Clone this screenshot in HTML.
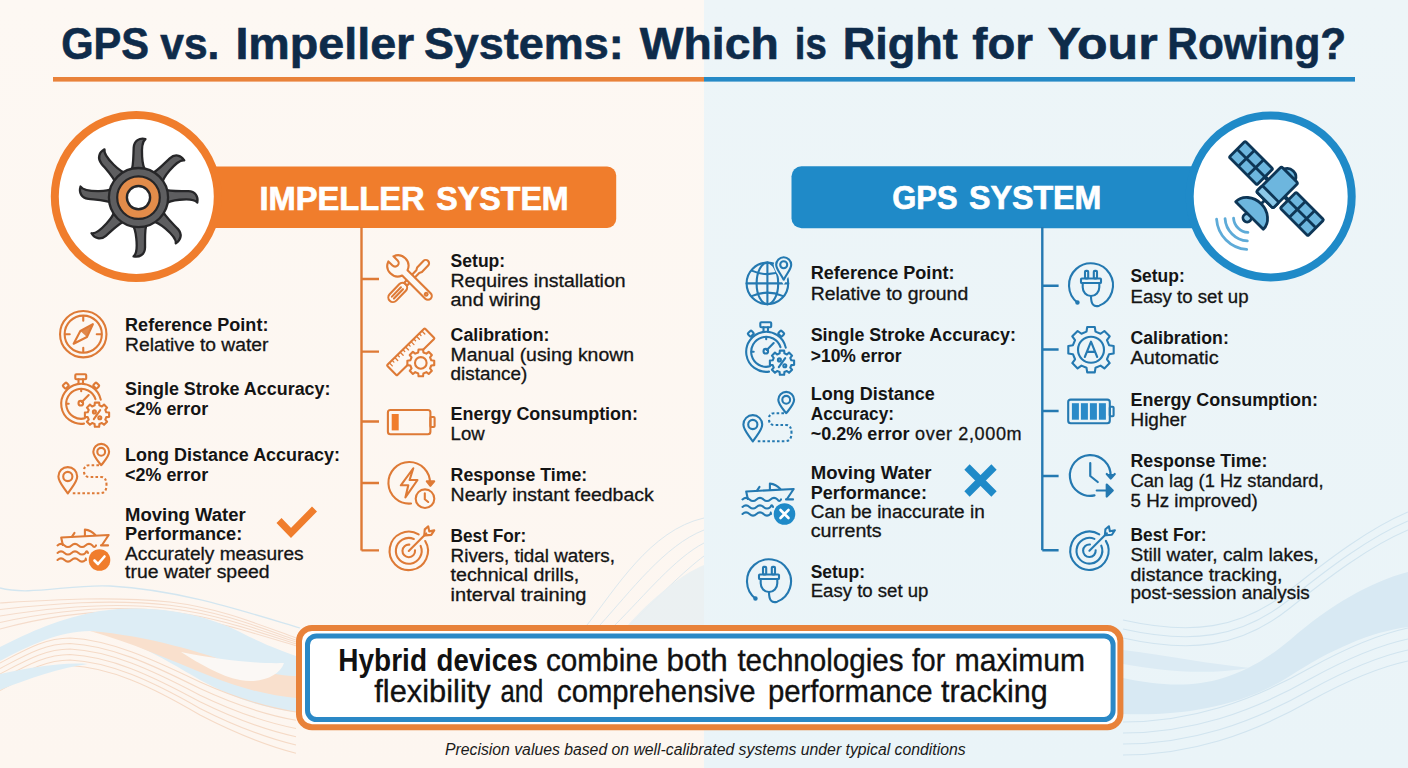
<!DOCTYPE html><html><head><meta charset="utf-8"><title>GPS vs Impeller</title><style>html,body{margin:0;padding:0;background:#fcf6f0;overflow:hidden}svg{display:block}text{font-family:"Liberation Sans",sans-serif}</style></head><body>
<svg width="1408" height="768" viewBox="0 0 1408 768">
<defs><linearGradient id="gl" x1="0" y1="0" x2="0" y2="1"><stop offset="0" stop-color="#fdf8f3"/><stop offset="1" stop-color="#fdf6f0"/></linearGradient><linearGradient id="gr" x1="0" y1="0" x2="0" y2="1"><stop offset="0" stop-color="#edf5f8"/><stop offset="1" stop-color="#eaf4f8"/></linearGradient></defs>
<rect x="0" y="0" width="704" height="768" fill="url(#gl)"/><rect x="704" y="0" width="704" height="768" fill="url(#gr)"/>
<g>
<path d="M0,588 C30,596 70,584 110,586 C180,590 240,610 300,628" fill="none" stroke="#d3e6f0" stroke-width="1.3"/>
<g fill="none" stroke="#f5dccb" stroke-width="1.1">
<path d="M0,603.0 C50,600.0 110,596.0 170,602.0 C220,608.0 260,625.0 296,638.0"/>
<path d="M0,609.5 C50,603.9 110,598.6 170,605.25 C220,611.25 260,627.6 296,639.95"/>
<path d="M0,616.0 C50,607.8 110,601.2 170,608.5 C220,614.5 260,630.2 296,641.9"/>
<path d="M0,622.5 C50,611.7 110,603.8 170,611.75 C220,617.75 260,632.8 296,643.85"/>
<path d="M0,629.0 C50,615.6 110,606.4 170,615.0 C220,621.0 260,635.4 296,645.8"/>
</g>
<path d="M0,647 C30,632 60,618 100,611 C150,604 200,612 240,632 C265,645 285,652 296,656 L296,712 C260,708 230,696 200,680 C160,656 120,634 90,631 C60,631 30,645 0,661 Z" fill="#ddedf5"/>
<path d="M90,631 C150,636 200,652 240,666 C265,673 285,676 296,676 V698 C270,696 240,688 210,676 C170,660 130,642 90,631 Z" fill="#f9e0cd"/>
<path d="M181,652 C220,660 260,664 284,663 C280,676 260,684 240,680 C220,676 200,664 181,652 Z" fill="#fbf8f5"/>
<g fill="none" stroke="#f5dac6" stroke-width="1.1">
<path d="M0,663.0 C25,650.0 45,638.0 70,638.0 C110,640.0 150,658.0 200,682.0 C240,700.0 270,708.0 296,712.0"/>
<path d="M0,668.5 C25,655.5 45,643.5 70,643.5 C110,645.5 150,663.5 200,688.6 C240,707.15 270,715.7 296,720.25"/>
<path d="M0,674.0 C25,661.0 45,649.0 70,649.0 C110,651.0 150,669.0 200,695.2 C240,714.3 270,723.4 296,728.5"/>
<path d="M0,679.5 C25,666.5 45,654.5 70,654.5 C110,656.5 150,674.5 200,701.8 C240,721.45 270,731.1 296,736.75"/>
<path d="M0,685.0 C25,672.0 45,660.0 70,660.0 C110,662.0 150,680.0 200,708.4 C240,728.6 270,738.8 296,745.0"/>
<path d="M0,690.5 C25,677.5 45,665.5 70,665.5 C110,667.5 150,685.5 200,715.0 C240,735.75 270,746.5 296,753.25"/>
</g>
<path d="M0,674 C30,668 60,662 88,664 C60,668 30,678 0,690 Z" fill="#ddedf5"/>
<g fill="none" stroke="#dce8ee" stroke-width="1">
<path d="M587,625 C615,590 650,530 704,518"/><path d="M600,625 C630,592 665,545 704,530"/><path d="M615,625 C645,595 675,558 704,543"/><path d="M630,625 C655,600 685,570 704,556"/>
</g>
<path d="M628,625 C650,600 680,575 704,565 L704,625 Z" fill="#e9f0f2" opacity="0.9"/>
<path d="M1123,678 C1180,690 1230,690 1290,640 C1330,605 1370,582 1408,572 L1408,627 C1370,632 1330,650 1290,676 C1240,708 1180,716 1123,714 Z" fill="#d8e9f3"/>
<path d="M1123,650 C1170,656 1210,664 1250,668 C1200,676 1160,670 1123,664 Z" fill="#dcebf4"/>
<g fill="none" stroke="#d1e4ef" stroke-width="1.1">
<path d="M1123,620 C1190,635 1240,630 1290,590 C1330,558 1370,528 1408,512"/>
<path d="M1123,629 C1190,644 1240,639 1290,599 C1330,567 1370,537 1408,521"/>
<path d="M1123,638 C1190,653 1240,648 1290,608 C1330,576 1370,546 1408,530"/>
<path d="M1123,722 C1190,722 1250,702 1310,668 C1350,646 1380,634 1408,628"/>
<path d="M1123,733 C1190,733 1250,713 1310,679 C1350,657 1380,645 1408,639"/>
<path d="M1123,744 C1190,744 1250,724 1310,690 C1350,668 1380,656 1408,650"/>
<path d="M1123,755 C1190,755 1250,735 1310,701 C1350,679 1380,667 1408,661"/>
</g>
</g>
<text x="61.20" y="59.2" font-size="44" font-weight="bold" fill="#0e2b4a" textLength="87.89" lengthAdjust="spacingAndGlyphs" stroke="#0e2b4a" stroke-width="0.6">GPS</text>
<text x="160.30" y="59.2" font-size="44" font-weight="bold" fill="#0e2b4a" textLength="59.11" lengthAdjust="spacingAndGlyphs" stroke="#0e2b4a" stroke-width="0.6">vs.</text>
<text x="235.40" y="59.2" font-size="44" font-weight="bold" fill="#0e2b4a" textLength="178.90" lengthAdjust="spacingAndGlyphs" stroke="#0e2b4a" stroke-width="0.6">Impeller</text>
<text x="423.90" y="59.2" font-size="44" font-weight="bold" fill="#0e2b4a" textLength="199.89" lengthAdjust="spacingAndGlyphs" stroke="#0e2b4a" stroke-width="0.6">Systems:</text>
<text x="639.80" y="59.2" font-size="44" font-weight="bold" fill="#0e2b4a" textLength="138.98" lengthAdjust="spacingAndGlyphs" stroke="#0e2b4a" stroke-width="0.6">Which</text>
<text x="794.80" y="59.2" font-size="44" font-weight="bold" fill="#0e2b4a" textLength="32.00" lengthAdjust="spacingAndGlyphs" stroke="#0e2b4a" stroke-width="0.6">is</text>
<text x="842.70" y="59.2" font-size="44" font-weight="bold" fill="#0e2b4a" textLength="115.19" lengthAdjust="spacingAndGlyphs" stroke="#0e2b4a" stroke-width="0.6">Right</text>
<text x="972.30" y="59.2" font-size="44" font-weight="bold" fill="#0e2b4a" textLength="60.70" lengthAdjust="spacingAndGlyphs" stroke="#0e2b4a" stroke-width="0.6">for</text>
<text x="1047.40" y="59.2" font-size="44" font-weight="bold" fill="#0e2b4a" textLength="110.28" lengthAdjust="spacingAndGlyphs" stroke="#0e2b4a" stroke-width="0.6">Your</text>
<text x="1167.30" y="59.2" font-size="44" font-weight="bold" fill="#0e2b4a" textLength="178.91" lengthAdjust="spacingAndGlyphs" stroke="#0e2b4a" stroke-width="0.6">Rowing?</text>
<rect x="53" y="77" width="651" height="4.6" fill="#e9823a"/><rect x="704" y="77" width="651" height="4.6" fill="#2589c6"/>
<rect x="200" y="166.5" width="416.2" height="61.4" rx="9" fill="#f07d2c"/>
<circle cx="136.3" cy="196.5" r="81.5" fill="#fff" stroke="#f07d2c" stroke-width="8"/>
<g stroke="#262628" stroke-width="2.3" stroke-linejoin="round">
<path transform="translate(138.5 197.6) rotate(0)" d="M-7.5,-26 C-5,-30 -5.2,-40 -4.8,-50 C-4.4,-57 1,-60 7,-58.6 C3.8,-56.2 3,-50 3.6,-41 C4,-34 4.5,-30 7.5,-26 Z" fill="#5e5e60"/>
<path transform="translate(138.5 197.6) rotate(44)" d="M-7.5,-26 C-5,-30 -5.2,-40 -4.8,-50 C-4.4,-57 1,-60 7,-58.6 C3.8,-56.2 3,-50 3.6,-41 C4,-34 4.5,-30 7.5,-26 Z" fill="#5e5e60"/>
<path transform="translate(138.5 197.6) rotate(88)" d="M-7.5,-26 C-5,-30 -5.2,-40 -4.8,-50 C-4.4,-57 1,-60 7,-58.6 C3.8,-56.2 3,-50 3.6,-41 C4,-34 4.5,-30 7.5,-26 Z" fill="#5e5e60"/>
<path transform="translate(138.5 197.6) rotate(134)" d="M-7.5,-26 C-5,-30 -5.2,-40 -4.8,-50 C-4.4,-57 1,-60 7,-58.6 C3.8,-56.2 3,-50 3.6,-41 C4,-34 4.5,-30 7.5,-26 Z" fill="#5e5e60"/>
<path transform="translate(138.5 197.6) rotate(178)" d="M-7.5,-26 C-5,-30 -5.2,-40 -4.8,-50 C-4.4,-57 1,-60 7,-58.6 C3.8,-56.2 3,-50 3.6,-41 C4,-34 4.5,-30 7.5,-26 Z" fill="#5e5e60"/>
<path transform="translate(138.5 197.6) rotate(226)" d="M-7.5,-26 C-5,-30 -5.2,-40 -4.8,-50 C-4.4,-57 1,-60 7,-58.6 C3.8,-56.2 3,-50 3.6,-41 C4,-34 4.5,-30 7.5,-26 Z" fill="#5e5e60"/>
<path transform="translate(138.5 197.6) rotate(274)" d="M-7.5,-26 C-5,-30 -5.2,-40 -4.8,-50 C-4.4,-57 1,-60 7,-58.6 C3.8,-56.2 3,-50 3.6,-41 C4,-34 4.5,-30 7.5,-26 Z" fill="#5e5e60"/>
<path transform="translate(138.5 197.6) rotate(318)" d="M-7.5,-26 C-5,-30 -5.2,-40 -4.8,-50 C-4.4,-57 1,-60 7,-58.6 C3.8,-56.2 3,-50 3.6,-41 C4,-34 4.5,-30 7.5,-26 Z" fill="#5e5e60"/>
<circle cx="138.5" cy="197.6" r="29.6" fill="#5e5e60"/>
</g>
<circle cx="138.5" cy="197.6" r="21.3" fill="#e38c4a" stroke="#262628" stroke-width="2.2"/>
<circle cx="138.5" cy="197.6" r="11.6" fill="#fff" stroke="#262628" stroke-width="2.4"/>
<text x="259.40" y="209.5" font-size="32.5" font-weight="bold" fill="#fff" textLength="165.19" lengthAdjust="spacingAndGlyphs" stroke="#fff" stroke-width="0.7">IMPELLER</text>
<text x="436.30" y="209.5" font-size="32.5" font-weight="bold" fill="#fff" textLength="132.40" lengthAdjust="spacingAndGlyphs" stroke="#fff" stroke-width="0.7">SYSTEM</text>
<rect x="791.5" y="166.2" width="420" height="62" rx="10" fill="#1f8ac8"/>
<circle cx="1270.7" cy="196.5" r="81" fill="#fff" stroke="#1f8ac8" stroke-width="8"/>
<g transform="translate(1276.5 188.5) rotate(45)" stroke="#0e3656" stroke-width="2.8" stroke-linejoin="round">
<path d="M-17,0 H17" stroke-width="4"/>
<rect x="-55.6" y="-11.25" width="39.1" height="22.5" rx="1.2" fill="#6db6de"/>
<path d="M-42.57,-11.25 V11.25 M-29.53,-11.25 V11.25 M-55.6,0 H-16.5" fill="none"/>
<rect x="16.5" y="-11.25" width="39.1" height="22.5" rx="1.2" fill="#6db6de"/>
<path d="M29.53,-11.25 V11.25 M42.57,-11.25 V11.25 M16.5,0 H55.6" fill="none"/>
<path d="M0,16 V24" stroke-width="3"/>
<circle cx="0" cy="41.5" r="4.2" fill="#8cc8e8"/>
<path d="M-19.5,38.2 A19.5,16.5 0 0 1 19.5,38.2 Z" fill="#6db6de"/>
<path d="M-8.5,-18.9 A8.5,8 0 0 1 7.5,-18.9Z" fill="#6db6de"/>
<rect x="-12" y="-19" width="23.5" height="35.5" rx="2" fill="#6db6de"/>
<rect x="-12" y="8" width="23.5" height="8.5" rx="2" fill="#8cc8e8"/>
</g>
<g fill="none" stroke="#5eabd8" stroke-width="2.8" stroke-linecap="round">
<path d="M1233.54,218.08 A15.5,15.5 0 0 0 1247.92,232.46"/>
<path d="M1225.06,218.67 A24,24 0 0 0 1247.33,240.94"/>
<path d="M1216.58,219.27 A32.5,32.5 0 0 0 1246.73,249.42"/>
</g>
<text x="892.30" y="209.4" font-size="33" font-weight="bold" fill="#fff" textLength="65.29" lengthAdjust="spacingAndGlyphs" stroke="#fff" stroke-width="0.7">GPS</text>
<text x="969.00" y="209.4" font-size="33" font-weight="bold" fill="#fff" textLength="132.40" lengthAdjust="spacingAndGlyphs" stroke="#fff" stroke-width="0.7">SYSTEM</text>
<path d="M361.5,227 V550.4 M361.5,279 H379 M361.5,351.6 H379 M361.5,421.5 H379 M361.5,483 H379 M361.5,550.4 H379" stroke="#de7a36" stroke-width="2.4" fill="none"/>
<path d="M1042.3,227 V550.3 M1042.3,285.7 H1058.6 M1042.3,349.5 H1058.6 M1042.3,411 H1058.6 M1042.3,476 H1058.6 M1042.3,550.3 H1058.6" stroke="#2479b1" stroke-width="2.4" fill="none"/>
<g fill="none" stroke="#de7a36" stroke-width="2.1" stroke-linecap="round" stroke-linejoin="round">
<circle cx="83.25" cy="334.2" r="23.2"/><circle cx="83.25" cy="334.2" r="18.6"/>
<path d="M83.25,316.7v4 M83.25,351.7v-4 M65.75,334.2h4 M100.75,334.2h-4"/>
<path d="M73.65,343.7 L80.35,331.0 L92.85,324.2 L86.95,337.0Z"/>
<path d="M80.35,331.0 L92.85,324.2 L86.95,337.0Z" fill="#de7a36" stroke="none" opacity="0.9"/>
</g>
<g fill="none" stroke="#de7a36" stroke-width="2.1" stroke-linecap="round" stroke-linejoin="round">
<path d="M100.76,399.64 A20,20 0 1 0 83.98,423.61"/>
<path d="M95.47,399.16 A15,15 0 1 0 84.83,418.35"/>
<rect x="75.3" y="374.3" width="10.9" height="5" rx="1"/>
<path d="M78.5,379.3 v4.5 M83,379.3 v4.5"/>
<rect x="63.3" y="383.4" width="5" height="4.4" rx="1" transform="rotate(-45 65.8 385.6)"/>
<rect x="93.7" y="383.4" width="5" height="4.4" rx="1" transform="rotate(45 96.2 385.6)"/>
<path d="M81.2,389.3 v2 M66.7,403.8 h2"/>
<path d="M81.8,402.0 L88.7,395.0"/><circle cx="80.8" cy="403.2" r="2.3"/>
<path d="M94.60,405.40 L94.84,402.59 L99.16,402.59 L99.40,405.40 L101.88,406.43 L104.03,404.61 L107.09,407.67 L105.27,409.82 L106.30,412.30 L109.11,412.54 L109.11,416.86 L106.30,417.10 L105.27,419.58 L107.09,421.73 L104.03,424.79 L101.88,422.97 L99.40,424.00 L99.16,426.81 L94.84,426.81 L94.60,424.00 L92.12,422.97 L89.97,424.79 L86.91,421.73 L88.73,419.58 L87.70,417.10 L84.89,416.86 L84.89,412.54 L87.70,412.30 L88.73,409.82 L86.91,407.67 L89.97,404.61 L92.12,406.43Z" fill="#fdf8f3"/>
<path d="M93.8,419.2 L100.2,410.2"/><circle cx="94.4" cy="411.9" r="1.5"/><circle cx="99.8" cy="417.7" r="1.5"/>
</g>
<g fill="none" stroke="#de7a36" stroke-width="2.1" stroke-linecap="round" stroke-linejoin="round">
<path d="M67.8,493.5 C62.629999999999995,485.9 58.4,481.67 58.4,476.5 A9.4,9.4 0 0 1 77.2,476.5 C77.2,481.67 72.97,485.9 67.8,493.5Z"/>
<circle cx="67.8" cy="476.5" r="4.6"/>
<path d="M101.2,465.2 C96.855,459.7 93.3,456.14500000000004 93.3,451.8 A7.9,7.9 0 0 1 109.10000000000001,451.8 C109.10000000000001,456.14500000000004 105.545,459.7 101.2,465.2Z"/>
<circle cx="101.2" cy="451.8" r="3.9"/>
<path d="M99,465.2 H89 Q84,465.2 84,471 Q84,477 89.5,477 H101 Q106.5,477 106.5,485 Q106.5,493.2 100,493.2 H72" stroke-dasharray="2.6 2.2" stroke-linecap="butt"/>
</g>
<g fill="none" stroke="#de7a36" stroke-width="2.1" stroke-linecap="round" stroke-linejoin="round">
<path d="M62.8,545 L61.2,537.5 L108.7,535 L102,545"/>
<path d="M84.9,536 V529.6 Q91,530 95.3,535"/>
<path d="M72,536.7 L74.5,532.9"/>
<path d="M57.5,545.4 Q61.00,542.1999999999999 64.50,545.4 Q68.00,548.6 71.50,545.4 Q75.00,542.1999999999999 78.50,545.4 Q82.00,548.6 85.50,545.4 Q89.00,542.1999999999999 92.50,545.4 Q94.25,548.6 96.00,545.4"/>
<path d="M101,545.4 H108"/>
<path d="M57.5,552.9 Q61.00,549.6999999999999 64.50,552.9 Q68.00,556.1 71.50,552.9 Q75.00,549.6999999999999 78.50,552.9 Q82.00,556.1 85.50,552.9 Q86.75,549.6999999999999 88.00,552.9"/>
<path d="M57.5,560 Q61.00,556.8 64.50,560 Q68.00,563.2 71.50,560 Q75.00,556.8 78.50,560 Q82.00,563.2 85.50,560 Q85.75,556.8 86.00,560"/>
</g>
<circle cx="99.5" cy="560" r="10.8" fill="#f07d2c"/>
<path d="M94.5,560.5 L98.0,564 L104.5,556.5" fill="none" stroke="#fff" stroke-width="2.6" stroke-linecap="round" stroke-linejoin="round"/>
<path d="M279,520.5 L291,533 L314.5,509" fill="none" stroke="#f07d2c" stroke-width="7" stroke-linecap="butt" stroke-linejoin="miter"/>
<text x="125.10" y="330.8" font-size="18" font-weight="bold" fill="#141414" textLength="143.31" lengthAdjust="spacingAndGlyphs" >Reference Point:</text>
<text x="125.10" y="350.9" font-size="18" font-weight="normal" fill="#141414" textLength="143.30" lengthAdjust="spacingAndGlyphs" stroke="#141414" stroke-width="0.3">Relative to water</text>
<text x="125.10" y="395" font-size="18" font-weight="bold" fill="#141414" textLength="205.41" lengthAdjust="spacingAndGlyphs" >Single Stroke Accuracy:</text>
<text x="125.10" y="415" font-size="18" font-weight="bold" fill="#141414" textLength="83.09" lengthAdjust="spacingAndGlyphs" >&lt;2% error</text>
<text x="125.10" y="460.7" font-size="18" font-weight="bold" fill="#141414" textLength="214.91" lengthAdjust="spacingAndGlyphs" >Long Distance Accuracy:</text>
<text x="125.10" y="480.5" font-size="18" font-weight="bold" fill="#141414" textLength="83.09" lengthAdjust="spacingAndGlyphs" >&lt;2% error</text>
<text x="125.10" y="521" font-size="18" font-weight="bold" fill="#141414" textLength="120.59" lengthAdjust="spacingAndGlyphs" >Moving Water</text>
<text x="125.10" y="540" font-size="18" font-weight="bold" fill="#141414" textLength="117.20" lengthAdjust="spacingAndGlyphs" >Performance:</text>
<text x="125.10" y="559.5" font-size="18" font-weight="normal" fill="#141414" textLength="178.50" lengthAdjust="spacingAndGlyphs" stroke="#141414" stroke-width="0.3">Accurately measures</text>
<text x="125.10" y="577.7" font-size="18" font-weight="normal" fill="#141414" textLength="144.40" lengthAdjust="spacingAndGlyphs" stroke="#141414" stroke-width="0.3">true water speed</text>
<g fill="#fdf8f3" stroke="#de7a36" stroke-width="2.1" stroke-linecap="round" stroke-linejoin="round">
<g transform="translate(390.8 299.7) rotate(-46.2)">
<rect x="-1.5" y="-4.6" width="23" height="9.2" rx="4.6"/>
<path d="M3,-1.3 H16 M3,1.5 H16" />
<path d="M21.5,-2 H39 L41.5,-3.3 H50.5 A3.3,3.3 0 0 1 50.5,3.3 H41.5 L39,2 H21.5Z"/>
</g>
<g transform="translate(397.9 265.9) rotate(45)">
<path d="M9.8,-3.8 L42.5,-3.8 A3.8,3.8 0 0 1 42.5,3.8 L9.8,3.8 A10.5,10.5 0 0 1 -9.9,3.6 L-4,3.6 A3.6,3.6 0 0 0 -4,-3.6 L-9.9,-3.6 A10.5,10.5 0 0 1 9.8,-3.8Z"/>
<circle cx="40" cy="0" r="1.4"/>
</g>
</g>
<g fill="#fdf8f3" stroke="#de7a36" stroke-width="2.1" stroke-linecap="round" stroke-linejoin="round">
<g transform="translate(410.75 351.85) rotate(-44.5)">
<rect x="-26.5" y="-7.1" width="53" height="14.2" rx="0.8"/>
<path d="M-23.00,-7.1 v4.2 M-19.20,-7.1 v2.6 M-15.40,-7.1 v4.2 M-11.60,-7.1 v2.6 M-7.80,-7.1 v4.2 M-4.00,-7.1 v2.6 M-0.20,-7.1 v4.2 M3.60,-7.1 v2.6 M7.40,-7.1 v4.2 M11.20,-7.1 v2.6 M15.00,-7.1 v4.2 M18.80,-7.1 v2.6 M22.60,-7.1 v4.2 " stroke-width="1.3"/>
</g>
<path d="M431.28,360.28 L434.22,360.67 L434.22,365.13 L431.28,365.52 L430.06,368.46 L431.87,370.81 L428.71,373.97 L426.36,372.16 L423.42,373.38 L423.03,376.32 L418.57,376.32 L418.18,373.38 L415.24,372.16 L412.89,373.97 L409.73,370.81 L411.54,368.46 L410.32,365.52 L407.38,365.13 L407.38,360.67 L410.32,360.28 L411.54,357.34 L409.73,354.99 L412.89,351.83 L415.24,353.64 L418.18,352.42 L418.57,349.48 L423.03,349.48 L423.42,352.42 L426.36,353.64 L428.71,351.83 L431.87,354.99 L430.06,357.34Z"/>
<circle cx="420.8" cy="362.9" r="5.8"/>
</g>
<g fill="none" stroke="#de7a36" stroke-width="2.1" stroke-linejoin="round">
<rect x="387.9" y="410" width="42.5" height="24.2" rx="2.5"/>
<rect x="430.4" y="417" width="4.2" height="10" rx="1"/>
<rect x="391.7" y="414" width="7" height="16.4" fill="#f07d2c" stroke="none"/>
</g>
<g fill="none" stroke="#de7a36" stroke-width="2.1" stroke-linecap="round" stroke-linejoin="round">
<path d="M411.01,503.52 A20.8,20.8 0 1 1 429.99,483.53"/>
<path d="M426.8,481.4 L430.4,485.8 L434.2,481.4Z" fill="#de7a36"/>
<path d="M413.3,468.25 L400.8,485.3 L408.3,485.3 L405.4,497.4 L417.5,480 L409.6,480Z"/>
<circle cx="425" cy="498.7" r="9.3" fill="#fdf8f3"/>
<path d="M424.8,493.3 V499.3 L428.2,502"/>
</g>
<g fill="none" stroke="#de7a36" stroke-width="2.1" stroke-linecap="round" stroke-linejoin="round">
<path d="M425.21,541.01 A19.2,19.2 0 1 1 418.64,534.44"/>
<path d="M420.62,545.86 A12.9,12.9 0 1 1 413.79,539.03"/>
<path d="M415.03,550.35 A6.3,6.3 0 1 1 409.30,544.62"/>
<path d="M408.75,550.9 L426.25,533.4"/>
<path d="M424.25,535.4 L424.75,529.4 L428.25,526.4 L429.25,531.4 L434.25,530.4 L431.25,534.9 L425.25,535.4Z"/>
</g>
<text x="450.60" y="266.8" font-size="18" font-weight="bold" fill="#141414" textLength="54.60" lengthAdjust="spacingAndGlyphs" >Setup:</text>
<text x="450.60" y="286.9" font-size="18" font-weight="normal" fill="#141414" textLength="174.90" lengthAdjust="spacingAndGlyphs" stroke="#141414" stroke-width="0.3">Requires installation</text>
<text x="450.60" y="306.2" font-size="18" font-weight="normal" fill="#141414" textLength="90.30" lengthAdjust="spacingAndGlyphs" stroke="#141414" stroke-width="0.3">and wiring</text>
<text x="450.60" y="340.7" font-size="18" font-weight="bold" fill="#141414" textLength="98.89" lengthAdjust="spacingAndGlyphs" >Calibration:</text>
<text x="450.60" y="360.7" font-size="18" font-weight="normal" fill="#141414" textLength="183.40" lengthAdjust="spacingAndGlyphs" stroke="#141414" stroke-width="0.3">Manual (using known</text>
<text x="450.60" y="380" font-size="18" font-weight="normal" fill="#141414" textLength="76.69" lengthAdjust="spacingAndGlyphs" stroke="#141414" stroke-width="0.3">distance)</text>
<text x="450.60" y="420" font-size="18" font-weight="bold" fill="#141414" textLength="187.41" lengthAdjust="spacingAndGlyphs" >Energy Consumption:</text>
<text x="450.60" y="440" font-size="18" font-weight="normal" fill="#141414" textLength="34.05" lengthAdjust="spacingAndGlyphs" stroke="#141414" stroke-width="0.3">Low</text>
<text x="450.60" y="481" font-size="18" font-weight="bold" fill="#141414" textLength="136.60" lengthAdjust="spacingAndGlyphs" >Response Time:</text>
<text x="450.60" y="501" font-size="18" font-weight="normal" fill="#141414" textLength="203.07" lengthAdjust="spacingAndGlyphs" stroke="#141414" stroke-width="0.3">Nearly instant feedback</text>
<text x="450.60" y="542" font-size="18" font-weight="bold" fill="#141414" textLength="75.60" lengthAdjust="spacingAndGlyphs" >Best For:</text>
<text x="450.60" y="562" font-size="18" font-weight="normal" fill="#141414" textLength="164.39" lengthAdjust="spacingAndGlyphs" stroke="#141414" stroke-width="0.3">Rivers, tidal waters,</text>
<text x="450.60" y="581" font-size="18" font-weight="normal" fill="#141414" textLength="128.60" lengthAdjust="spacingAndGlyphs" stroke="#141414" stroke-width="0.3">technical drills,</text>
<text x="450.60" y="600.6" font-size="18" font-weight="normal" fill="#141414" textLength="135.81" lengthAdjust="spacingAndGlyphs" stroke="#141414" stroke-width="0.3">interval training</text>
<g fill="none" stroke="#2479b1" stroke-width="2.1" stroke-linecap="round" stroke-linejoin="round">
<circle cx="767.4" cy="283.4" r="20.8"/>
<ellipse cx="767.4" cy="283.4" rx="10.8" ry="20.8"/>
<path d="M767.4,262.59999999999997 V304.2 M746.6,283.4 H788.1999999999999"/>
<path d="M752.4,270.9 Q767.4,277.4 782.4,270.9 M752.4,295.9 Q767.4,289.4 782.4,295.9"/>
</g>
<path d="M783.7,279.7 C779.575,272.2 776.2,268.825 776.2,264.7 A7.5,7.5 0 0 1 791.2,264.7 C791.2,268.825 787.825,272.2 783.7,279.7Z" fill="#ecf5f8" stroke="#ecf5f8" stroke-width="5"/>
<g fill="none" stroke="#2479b1" stroke-width="2.1" stroke-linejoin="round">
<path d="M783.7,279.7 C779.575,272.2 776.2,268.825 776.2,264.7 A7.5,7.5 0 0 1 791.2,264.7 C791.2,268.825 787.825,272.2 783.7,279.7Z"/>
<circle cx="783.7" cy="264.7" r="3.5"/>
</g>
<g fill="none" stroke="#2479b1" stroke-width="2.1" stroke-linecap="round" stroke-linejoin="round">
<path d="M785.76,347.64 A20,20 0 1 0 768.98,371.61"/>
<path d="M780.47,347.16 A15,15 0 1 0 769.83,366.35"/>
<rect x="760.3" y="322.3" width="10.9" height="5" rx="1"/>
<path d="M763.5,327.3 v4.5 M768,327.3 v4.5"/>
<rect x="748.3" y="331.4" width="5" height="4.4" rx="1" transform="rotate(-45 750.8 333.6)"/>
<rect x="778.7" y="331.4" width="5" height="4.4" rx="1" transform="rotate(45 781.2 333.6)"/>
<path d="M766.2,337.3 v2 M751.7,351.8 h2"/>
<path d="M766.8000000000001,350.0 L773.7,343.0"/><circle cx="765.8000000000001" cy="351.2" r="2.3"/>
<path d="M779.60,353.40 L779.84,350.59 L784.16,350.59 L784.40,353.40 L786.88,354.43 L789.03,352.61 L792.09,355.67 L790.27,357.82 L791.30,360.30 L794.11,360.54 L794.11,364.86 L791.30,365.10 L790.27,367.58 L792.09,369.73 L789.03,372.79 L786.88,370.97 L784.40,372.00 L784.16,374.81 L779.84,374.81 L779.60,372.00 L777.12,370.97 L774.97,372.79 L771.91,369.73 L773.73,367.58 L772.70,365.10 L769.89,364.86 L769.89,360.54 L772.70,360.30 L773.73,357.82 L771.91,355.67 L774.97,352.61 L777.12,354.43Z" fill="#ecf5f8"/>
<path d="M778.8,367.2 L785.2,358.2"/><circle cx="779.4" cy="359.9" r="1.5"/><circle cx="784.8" cy="365.7" r="1.5"/>
</g>
<g fill="none" stroke="#2479b1" stroke-width="2.1" stroke-linecap="round" stroke-linejoin="round">
<path d="M752.8,441.5 C747.63,433.9 743.4,429.67 743.4,424.5 A9.4,9.4 0 0 1 762.1999999999999,424.5 C762.1999999999999,429.67 757.9699999999999,433.9 752.8,441.5Z"/>
<circle cx="752.8" cy="424.5" r="4.6"/>
<path d="M786.2,413.2 C781.855,407.7 778.3000000000001,404.14500000000004 778.3000000000001,399.8 A7.9,7.9 0 0 1 794.1,399.8 C794.1,404.14500000000004 790.5450000000001,407.7 786.2,413.2Z"/>
<circle cx="786.2" cy="399.8" r="3.9"/>
<path d="M784,413.2 H774 Q769,413.2 769,419 Q769,425 774.5,425 H786 Q791.5,425 791.5,433 Q791.5,441.2 785,441.2 H757" stroke-dasharray="2.6 2.2" stroke-linecap="butt"/>
</g>
<g fill="none" stroke="#2479b1" stroke-width="2.1" stroke-linecap="round" stroke-linejoin="round">
<path d="M747.8,499 L746.2,491.5 L793.7,489 L787,499"/>
<path d="M769.9,490 V483.6 Q776,484 780.3,489"/>
<path d="M757,490.70000000000005 L759.5,486.9"/>
<path d="M742.5,499.4 Q746.00,496.2 749.50,499.4 Q753.00,502.59999999999997 756.50,499.4 Q760.00,496.2 763.50,499.4 Q767.00,502.59999999999997 770.50,499.4 Q774.00,496.2 777.50,499.4 Q779.25,502.59999999999997 781.00,499.4"/>
<path d="M786,499.4 H793"/>
<path d="M742.5,506.9 Q746.00,503.7 749.50,506.9 Q753.00,510.09999999999997 756.50,506.9 Q760.00,503.7 763.50,506.9 Q767.00,510.09999999999997 770.50,506.9 Q771.75,503.7 773.00,506.9"/>
<path d="M742.5,514 Q746.00,510.8 749.50,514 Q753.00,517.2 756.50,514 Q760.00,510.8 763.50,514 Q767.00,517.2 770.50,514 Q770.75,510.8 771.00,514"/>
</g>
<circle cx="784.5" cy="514" r="10.8" fill="#1f8ac8"/>
<path d="M780.5,510 L788.5,518 M788.5,510 L780.5,518" fill="none" stroke="#fff" stroke-width="2.6" stroke-linecap="round"/>
<g fill="none" stroke="#2479b1" stroke-width="2.1" stroke-linecap="round" stroke-linejoin="round">
<path d="M755.46,598.59 A22,22 0 1 1 777.24,601.65 Q769,604.25 769,592.25"/>
<circle cx="755.46" cy="598.59" r="1.2" fill="#2479b1"/>
<path d="M760.7,578.95 V583.25 A8.3,8.8 0 0 0 777.3,583.25 V578.95"/>
<rect x="759" y="574.55" width="20" height="4.4" rx="0.8"/>
<rect x="763" y="566.85" width="3.2" height="7.7" rx="1"/><rect x="771.8" y="566.85" width="3.2" height="7.7" rx="1"/>
</g>
<path d="M967,467 L994,494 M994,467 L967,494" fill="none" stroke="#1f8ac8" stroke-width="7.5" stroke-linecap="butt"/>
<text x="810.70" y="279" font-size="18" font-weight="bold" fill="#141414" textLength="143.81" lengthAdjust="spacingAndGlyphs" >Reference Point:</text>
<text x="810.70" y="299.6" font-size="18" font-weight="normal" fill="#141414" textLength="157.50" lengthAdjust="spacingAndGlyphs" stroke="#141414" stroke-width="0.3">Relative to ground</text>
<text x="810.70" y="341" font-size="18" font-weight="bold" fill="#141414" textLength="205.21" lengthAdjust="spacingAndGlyphs" >Single Stroke Accuracy:</text>
<text x="810.70" y="361.6" font-size="18" font-weight="bold" fill="#141414" textLength="90.90" lengthAdjust="spacingAndGlyphs" >&gt;10% error</text>
<text x="810.70" y="400.3" font-size="18" font-weight="bold" fill="#141414" textLength="123.99" lengthAdjust="spacingAndGlyphs" >Long Distance</text>
<text x="810.70" y="420" font-size="18" font-weight="bold" fill="#141414" textLength="83.30" lengthAdjust="spacingAndGlyphs" >Accuracy:</text>
<text x="810.7" y="440.3" font-size="18" fill="#141414" textLength="211.5" lengthAdjust="spacingAndGlyphs"><tspan font-weight="bold">~0.2% error</tspan><tspan letter-spacing="0.62" stroke="#141414" stroke-width="0.3"> over 2,000m</tspan></text>
<text x="810.70" y="479" font-size="18" font-weight="bold" fill="#141414" textLength="120.89" lengthAdjust="spacingAndGlyphs" >Moving Water</text>
<text x="810.70" y="498.75" font-size="18" font-weight="bold" fill="#141414" textLength="116.20" lengthAdjust="spacingAndGlyphs" >Performance:</text>
<text x="810.70" y="518.4" font-size="18" font-weight="normal" fill="#141414" textLength="174.01" lengthAdjust="spacingAndGlyphs" stroke="#141414" stroke-width="0.3">Can be inaccurate in</text>
<text x="810.70" y="537" font-size="18" font-weight="normal" fill="#141414" textLength="70.91" lengthAdjust="spacingAndGlyphs" stroke="#141414" stroke-width="0.3">currents</text>
<text x="810.70" y="577.5" font-size="18" font-weight="bold" fill="#141414" textLength="54.30" lengthAdjust="spacingAndGlyphs" >Setup:</text>
<text x="810.70" y="597" font-size="18" font-weight="normal" fill="#141414" textLength="117.70" lengthAdjust="spacingAndGlyphs" stroke="#141414" stroke-width="0.3">Easy to set up</text>
<g fill="none" stroke="#2479b1" stroke-width="2.1" stroke-linecap="round" stroke-linejoin="round">
<path d="M1077.46,302.59 A22,22 0 1 1 1099.24,305.65 Q1091,308.25 1091,296.25"/>
<circle cx="1077.46" cy="302.59" r="1.2" fill="#2479b1"/>
<path d="M1082.7,282.95 V287.25 A8.3,8.8 0 0 0 1099.3,287.25 V282.95"/>
<rect x="1081" y="278.55" width="20" height="4.4" rx="0.8"/>
<rect x="1085" y="270.85" width="3.2" height="7.7" rx="1"/><rect x="1093.8" y="270.85" width="3.2" height="7.7" rx="1"/>
</g>
<g fill="none" stroke="#2479b1" stroke-width="2.1" stroke-linejoin="round" stroke-linecap="round">
<path d="M1086.49,331.65 L1087.22,327.01 L1094.78,327.01 L1095.51,331.65 L1100.57,333.75 L1104.37,330.99 L1109.71,336.33 L1106.95,340.13 L1109.05,345.19 L1113.69,345.92 L1113.69,353.48 L1109.05,354.21 L1106.95,359.27 L1109.71,363.07 L1104.37,368.41 L1100.57,365.65 L1095.51,367.75 L1094.78,372.39 L1087.22,372.39 L1086.49,367.75 L1081.43,365.65 L1077.63,368.41 L1072.29,363.07 L1075.05,359.27 L1072.95,354.21 L1068.31,353.48 L1068.31,345.92 L1072.95,345.19 L1075.05,340.13 L1072.29,336.33 L1077.63,330.99 L1081.43,333.75Z"/>
<circle cx="1091" cy="349.7" r="13"/>
<path d="M1084.8,357.0 L1091,341.7 L1097.2,357.0 M1087.2,351.9 H1094.8"/>
</g>
<g fill="none" stroke="#2479b1" stroke-width="2.1" stroke-linejoin="round">
<rect x="1068.2" y="399.6" width="41.6" height="23.7" rx="2.5"/>
<rect x="1109.8" y="406.7" width="3.8" height="9.5" rx="1"/>
<rect x="1071.9" y="403.2" width="7" height="16.5" fill="#2a8ac8" stroke="none"/>
<rect x="1080.9" y="403.2" width="7" height="16.5" fill="#2a8ac8" stroke="none"/>
<rect x="1089.9" y="403.2" width="7" height="16.5" fill="#2a8ac8" stroke="none"/>
<rect x="1098.9" y="403.2" width="7" height="16.5" fill="#2a8ac8" stroke="none"/>
</g>
<g fill="none" stroke="#2479b1" stroke-width="2.2" stroke-linecap="round" stroke-linejoin="round">
<path d="M1094.49,495.45 A20.4,20.4 0 1 1 1110.64,476.21"/>
<path d="M1106.75,474.0 L1110.75,478.5 L1114.75,474.0" fill="#2479b1"/>
<path d="M1090.25,463.0 V476.0 L1097.75,482.0"/>
<path d="M1096.75,490.5 H1111.25"/><path d="M1106.75,484.5 L1112.75,490.5 L1106.75,496.5Z" fill="#2479b1"/>
</g>
<g fill="none" stroke="#2479b1" stroke-width="2.1" stroke-linecap="round" stroke-linejoin="round">
<path d="M1105.86,540.86 A19.2,19.2 0 1 1 1099.29,534.29"/>
<path d="M1101.27,545.71 A12.9,12.9 0 1 1 1094.44,538.88"/>
<path d="M1095.68,550.20 A6.3,6.3 0 1 1 1089.95,544.47"/>
<path d="M1089.4,550.75 L1106.9,533.25"/>
<path d="M1104.9,535.25 L1105.4,529.25 L1108.9,526.25 L1109.9,531.25 L1114.9,530.25 L1111.9,534.75 L1105.9,535.25Z"/>
</g>
<text x="1130.50" y="282" font-size="18" font-weight="bold" fill="#141414" textLength="54.20" lengthAdjust="spacingAndGlyphs" >Setup:</text>
<text x="1130.50" y="302.7" font-size="18" font-weight="normal" fill="#141414" textLength="118.00" lengthAdjust="spacingAndGlyphs" stroke="#141414" stroke-width="0.3">Easy to set up</text>
<text x="1130.50" y="343.6" font-size="18" font-weight="bold" fill="#141414" textLength="98.29" lengthAdjust="spacingAndGlyphs" >Calibration:</text>
<text x="1130.50" y="364.2" font-size="18" font-weight="normal" fill="#141414" textLength="88.21" lengthAdjust="spacingAndGlyphs" stroke="#141414" stroke-width="0.3">Automatic</text>
<text x="1130.50" y="405.6" font-size="18" font-weight="bold" fill="#141414" textLength="187.41" lengthAdjust="spacingAndGlyphs" >Energy Consumption:</text>
<text x="1130.50" y="426" font-size="18" font-weight="normal" fill="#141414" textLength="55.75" lengthAdjust="spacingAndGlyphs" stroke="#141414" stroke-width="0.3">Higher</text>
<text x="1130.50" y="467" font-size="18" font-weight="bold" fill="#141414" textLength="136.80" lengthAdjust="spacingAndGlyphs" >Response Time:</text>
<text x="1130.50" y="487" font-size="18" font-weight="normal" fill="#141414" textLength="193.00" lengthAdjust="spacingAndGlyphs" stroke="#141414" stroke-width="0.3">Can lag (1 Hz standard,</text>
<text x="1130.50" y="506.5" font-size="18" font-weight="normal" fill="#141414" textLength="127.30" lengthAdjust="spacingAndGlyphs" stroke="#141414" stroke-width="0.3">5 Hz improved)</text>
<text x="1130.50" y="541" font-size="18" font-weight="bold" fill="#141414" textLength="76.10" lengthAdjust="spacingAndGlyphs" >Best For:</text>
<text x="1130.50" y="561" font-size="18" font-weight="normal" fill="#141414" textLength="188.01" lengthAdjust="spacingAndGlyphs" stroke="#141414" stroke-width="0.3">Still water, calm lakes,</text>
<text x="1130.50" y="580.6" font-size="18" font-weight="normal" fill="#141414" textLength="152.00" lengthAdjust="spacingAndGlyphs" stroke="#141414" stroke-width="0.3">distance tracking,</text>
<text x="1130.50" y="598.75" font-size="18" font-weight="normal" fill="#141414" textLength="179.31" lengthAdjust="spacingAndGlyphs" stroke="#141414" stroke-width="0.3">post-session analysis</text>
<rect x="299" y="628" width="821.4" height="99.3" rx="13" fill="#fff" stroke="#e8823a" stroke-width="6"/>
<rect x="307.5" y="635.9" width="805.6" height="83.6" rx="9" fill="#fff" stroke="#2a88c6" stroke-width="5"/>
<text x="338.30" y="670.9" font-size="30.5" font-weight="bold" fill="#111" textLength="88.70" lengthAdjust="spacingAndGlyphs" >Hybrid</text>
<text x="436.60" y="670.9" font-size="30.5" font-weight="bold" fill="#111" textLength="101.21" lengthAdjust="spacingAndGlyphs" >devices</text>
<text x="546.00" y="670.9" font-size="30.5" font-weight="normal" fill="#111" textLength="112.29" lengthAdjust="spacingAndGlyphs" stroke="#111" stroke-width="0.35">combine</text>
<text x="666.60" y="670.9" font-size="30.5" font-weight="normal" fill="#111" textLength="61.11" lengthAdjust="spacingAndGlyphs" stroke="#111" stroke-width="0.35">both</text>
<text x="737.40" y="670.9" font-size="30.5" font-weight="normal" fill="#111" textLength="166.21" lengthAdjust="spacingAndGlyphs" stroke="#111" stroke-width="0.35">technologies</text>
<text x="911.90" y="670.9" font-size="30.5" font-weight="normal" fill="#111" textLength="33.30" lengthAdjust="spacingAndGlyphs" stroke="#111" stroke-width="0.35">for</text>
<text x="954.80" y="670.9" font-size="30.5" font-weight="normal" fill="#111" textLength="130.19" lengthAdjust="spacingAndGlyphs" stroke="#111" stroke-width="0.35">maximum</text>
<text x="374.30" y="701.9" font-size="30.5" font-weight="normal" fill="#111" textLength="116.39" lengthAdjust="spacingAndGlyphs" stroke="#111" stroke-width="0.35">flexibility</text>
<text x="500.40" y="701.9" font-size="30.5" font-weight="normal" fill="#111" textLength="42.91" lengthAdjust="spacingAndGlyphs" stroke="#111" stroke-width="0.35">and</text>
<text x="557.10" y="701.9" font-size="30.5" font-weight="normal" fill="#111" textLength="198.31" lengthAdjust="spacingAndGlyphs" stroke="#111" stroke-width="0.35">comprehensive</text>
<text x="767.90" y="701.9" font-size="30.5" font-weight="normal" fill="#111" textLength="164.79" lengthAdjust="spacingAndGlyphs" stroke="#111" stroke-width="0.35">performance</text>
<text x="941.00" y="701.9" font-size="30.5" font-weight="normal" fill="#111" textLength="106.61" lengthAdjust="spacingAndGlyphs" stroke="#111" stroke-width="0.35">tracking</text>
<text x="445" y="755.2" font-size="16" font-style="italic" fill="#1a1a1a" textLength="520.6" lengthAdjust="spacingAndGlyphs">Precision values based on well-calibrated systems under typical conditions</text>
</svg></body></html>
